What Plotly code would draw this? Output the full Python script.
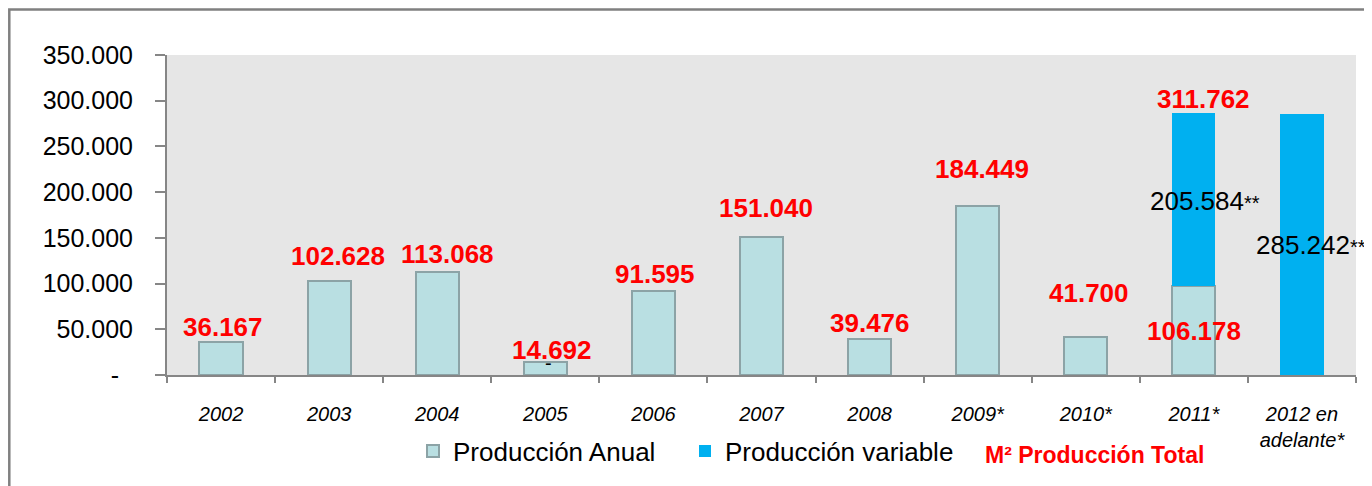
import plotly.graph_objects as go

# ---------------- data ----------------
years = ["2002", "2003", "2004", "2005", "2006", "2007", "2008",
         "2009*", "2010*", "2011*", "2012 en<br>adelante*"]

# bar heights as drawn (m²)
produccion_anual = [36167, 102628, 113068, 14692, 91595, 151040, 39476,
                    184449, 41700, 97300, None]
produccion_variable = [None, None, None, None, None, None, None,
                       None, None, 188900, 285242]

# data label texts
anual_labels = ["36.167", "102.628", "113.068", "14.692", "91.595", "151.040",
                "39.476", "184.449", "41.700", "106.178", "-"]
variable_labels = {"2011*": "205.584", "2012 en<br>adelante*": "285.242"}
total_labels = {"2011*": "311.762"}
zero_labels = {"2005": "-"}

# label placement (data units) and horizontal nudges (px)
anual_label_y = [52000, 129800, 132100, 27400, 111000, 183200, 57400,
                 224800, 90200, 48300, -6000]
anual_label_dx = [2, 9, 10, 7, 2, 4, 0, 4, 3, 0, 3]
variable_label_y = {"2011*": 190500, "2012 en<br>adelante*": 142200}
variable_label_dx = {"2011*": 11, "2012 en<br>adelante*": 9}
total_label_y = {"2011*": 302200}
total_label_dx = {"2011*": 10}
zero_label_y = {"2005": 13100}
zero_label_dx = {"2005": 3}

y_ticks = [0, 50000, 100000, 150000, 200000, 250000, 300000, 350000]
y_ticktext = ["-\u00a0\u00a0", "50.000", "100.000", "150.000", "200.000",
              "250.000", "300.000", "350.000"]

FONT = "Liberation Sans, Arial, sans-serif"
ANUAL_FILL = "#B9DFE2"
ANUAL_LINE = "#8CA3A6"
VAR_FILL = "#00B0F0"
AXIS = "#868686"

# the page body has an 8px margin: the figure is laid out 8px smaller
PAGE_OFF = 8
PLOT_L, PLOT_R, PLOT_T, PLOT_B = 167, 1356, 55, 375   # page pixels of plot area
PW, PH = PLOT_R - PLOT_L, PLOT_B - PLOT_T


def px_x(px):
    return (px - PLOT_L) / PW


def px_y(py):
    return (PLOT_B - py) / PH


fig = go.Figure()
fig.add_trace(go.Bar(
    x=years, y=produccion_anual, name="Producción Anual",
    marker=dict(color=ANUAL_FILL, line=dict(color=ANUAL_LINE, width=2)),
    width=0.4,
))
fig.add_trace(go.Bar(
    x=years, y=produccion_variable, name="Producción variable",
    marker=dict(color=VAR_FILL, line=dict(color=VAR_FILL, width=0)),
    width=0.4,
))


def cat_pos(cat):
    # category axes read annotation positions as indices
    return years.index(cat)


ann = []
for cat, txt, yy, dx in zip(years, anual_labels, anual_label_y, anual_label_dx):
    ann.append(dict(x=cat_pos(cat), y=yy, xref="x", yref="y", text="<b>%s</b>" % txt,
                    showarrow=False, xshift=dx,
                    font=dict(family=FONT, size=26, color="#FF0000")))
for cat, txt in variable_labels.items():
    ann.append(dict(x=cat_pos(cat), y=variable_label_y[cat], xref="x", yref="y",
                    text=txt + "<span style='font-size:20px'>**</span>",
                    showarrow=False, xshift=variable_label_dx[cat],
                    font=dict(family=FONT, size=26, color="#000000")))
for cat, txt in total_labels.items():
    ann.append(dict(x=cat_pos(cat), y=total_label_y[cat], xref="x", yref="y",
                    text="<b>%s</b>" % txt, showarrow=False,
                    xshift=total_label_dx[cat],
                    font=dict(family=FONT, size=26, color="#FF0000")))
for cat, txt in zero_labels.items():
    ann.append(dict(x=cat_pos(cat), y=zero_label_y[cat], xref="x", yref="y",
                    text=txt, showarrow=False, xshift=zero_label_dx[cat],
                    font=dict(family=FONT, size=20, color="#000000")))

# third legend entry (text only)
ann.append(dict(x=px_x(983), y=px_y(455), xref="paper", yref="paper",
                xanchor="left", yanchor="middle", showarrow=False,
                text="<b>M² Producción Total</b>",
                font=dict(family=FONT, size=23, color="#FF0000")))

W, H = 1372 - PAGE_OFF, 486 - PAGE_OFF
fig.update_layout(
    width=W, height=H, autosize=False,
    margin=dict(l=PLOT_L - PAGE_OFF, r=W - (PLOT_R - PAGE_OFF),
                t=PLOT_T - PAGE_OFF, b=H - (PLOT_B - PAGE_OFF), pad=0),
    barmode="stack",
    paper_bgcolor="#FFFFFF",
    plot_bgcolor="#E6E6E6",
    font=dict(family=FONT, color="#000000"),
    showlegend=True,
    legend=dict(orientation="h", x=px_x(413), xanchor="left",
                y=px_y(451), yanchor="middle",
                font=dict(family=FONT, size=26, color="#000000"),
                bgcolor="rgba(0,0,0,0)", entrywidth=227, entrywidthmode="pixels",
                traceorder="normal"),
    annotations=ann,
    shapes=[dict(type="rect", xref="paper", yref="paper",
                 x0=px_x(9.3), x1=px_x(1366),
                 y0=px_y(520), y1=px_y(9.5),
                 line=dict(color="#808080", width=2.5),
                 fillcolor="rgba(0,0,0,0)", layer="above")],
)

fig.update_xaxes(
    type="category", range=[-0.5, len(years) - 0.5], autorange=False,
    showgrid=False, zeroline=False,
    showline=True, linecolor=AXIS, linewidth=2,
    ticks="outside", tickson="boundaries", ticklen=6, tickwidth=1.5, tickcolor=AXIS,
    ticklabelstandoff=20, automargin=False,
    tickfont=dict(family=FONT, size=20, color="#000000", style="italic"),
)
fig.update_yaxes(
    range=[0, 350000], autorange=False, showgrid=False, zeroline=False,
    showline=True, linecolor=AXIS, linewidth=2, automargin=False,
    ticks="outside", ticklen=10, tickwidth=1.5, tickcolor=AXIS,
    tickvals=y_ticks, ticktext=y_ticktext, ticklabelstandoff=17,
    tickfont=dict(family=FONT, size=25, color="#000000"),
)

fig.write_html("out.html", config={"displayModeBar": False})
